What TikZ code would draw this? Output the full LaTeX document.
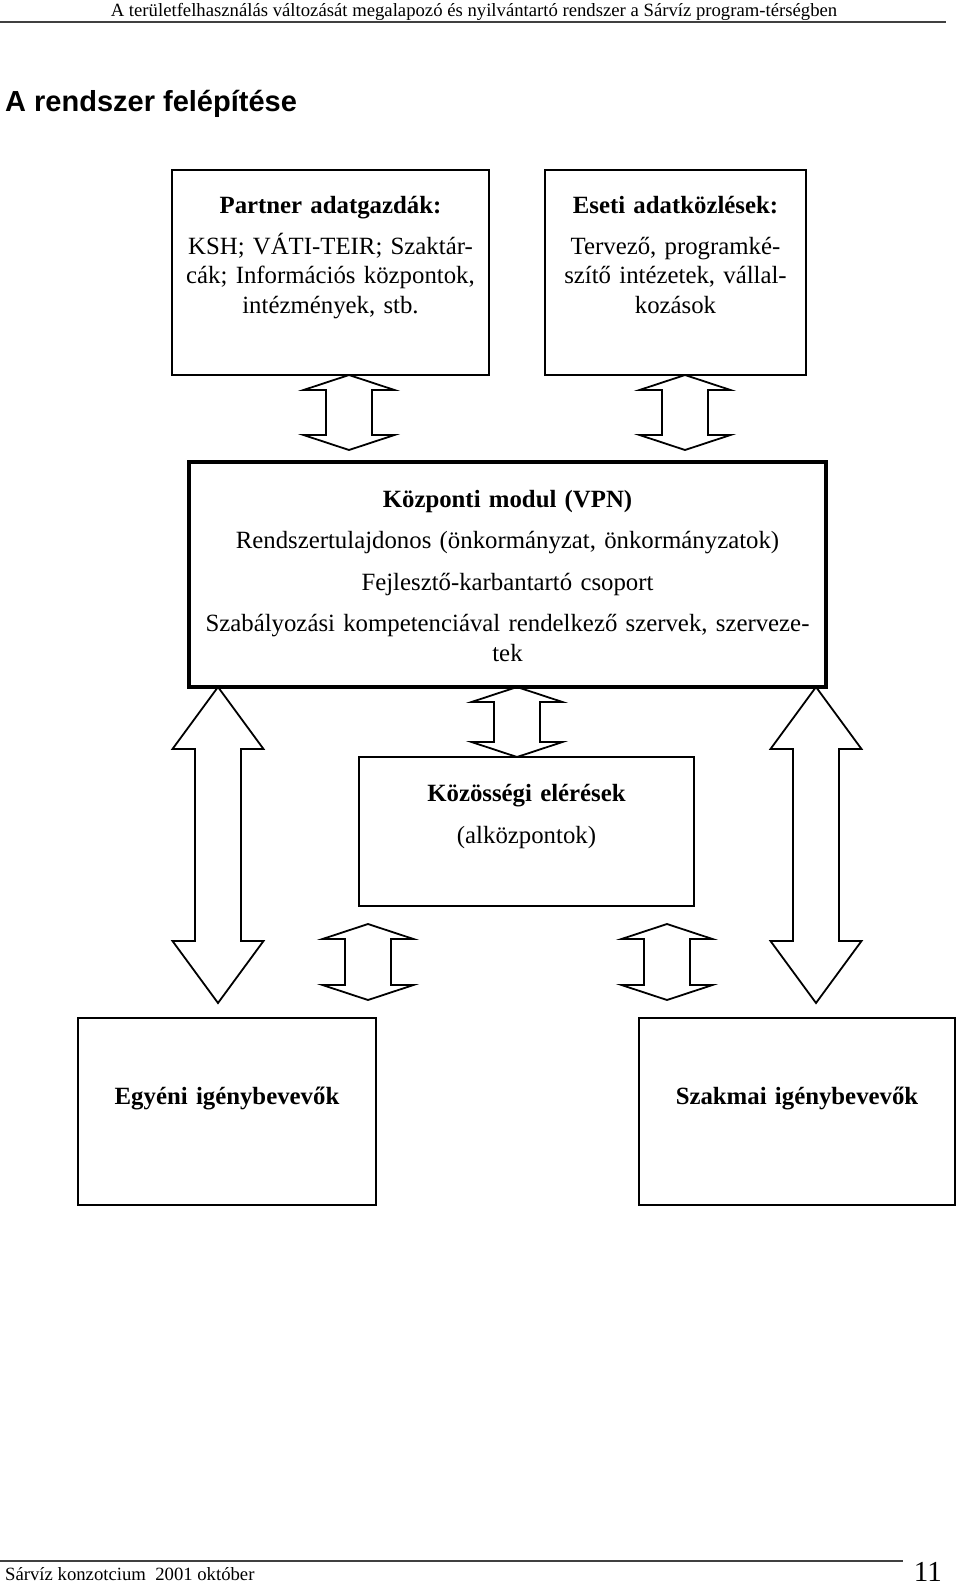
\documentclass[tikz,border=0pt]{standalone}
\usepackage{fontspec}
\setmainfont{Liberation Serif}
\setsansfont{Liberation Sans}
\usetikzlibrary{calc}

% double block arrow between two boxes: x, upper box, lower box, top gap, bottom gap, head length
\newcommand{\twoway}[6]{%
  \draw[blockarrow] let \p3=(#1,0), \p1=(#2.south), \p2=(#3.north) in
    (\x3,{\y1-#4pt}) -- ++(45.5pt,-#6pt) -- ++(-22.5pt,0pt)
    -- ({\x3+23pt},{\y2+#5pt+#6pt}) -- ++(22.5pt,0pt)
    -- (\x3,{\y2+#5pt}) -- ++(-45.5pt,#6pt) -- ++(22.5pt,0pt)
    -- ({\x3-23pt},{\y1-#4pt-#6pt}) -- ++(-22.5pt,0pt) -- cycle;}

\begin{document}
\begin{tikzpicture}[x=1pt,y=-1pt,
    box/.style={draw,line width=1.8pt,outer sep=0pt,inner sep=0pt},
    mainbox/.style={box,line width=4pt},
    txt/.style={anchor=base,align=center,inner sep=0pt,font=\fontsize{24.8}{29.5}\selectfont},
    blockarrow/.style={draw,line width=1.8pt,line join=miter}]

		\useasboundingbox (0,0) rectangle (960,1585);

		% page header and footer
		\node[anchor=base,inner sep=0pt,font=\fontsize{18.7}{22}\selectfont] (header) at (474,16)
			{A területfelhasználás változását megalapozó és nyilvántartó rendszer a Sárvíz program-térségben};
		\draw[line width=1.5pt,black!75] (0,22) -- (946,22);
		\node[anchor=base west,inner sep=0pt,font=\sffamily\bfseries\fontsize{29}{34}\selectfont] (title) at (5,111)
			{A rendszer felépítése};
		\draw[line width=1.5pt,black!75] (0,1561) -- (903,1561);
		\node[anchor=base west,inner sep=0pt,font=\fontsize{18.7}{22}\selectfont] (footer) at (5,1580)
			{Sárvíz konzotcium\ \ 2001 október};
		\node[anchor=base east,inner sep=0pt,font=\fontsize{29}{34}\selectfont] (pageno) at (942,1581) {11};

		% boxes
		\node[box,minimum width=317pt,minimum height=205pt] (partner) at (330.5,272.5) {};
		\node[box,minimum width=261pt,minimum height=205pt] (eseti) at (675.5,272.5) {};
		\node[mainbox,minimum width=637pt,minimum height=225pt] (kozpont) at (507.5,574.5) {};
		\node[box,minimum width=335pt,minimum height=149pt] (kozossegi) at (526.5,831.5) {};
		\node[box,minimum width=298pt,minimum height=187pt] (egyeni) at (227,1111.5) {};
		\node[box,minimum width=316pt,minimum height=187pt] (szakmai) at (797,1111.5) {};

		% box texts
		\node[txt,text width=315pt] (partner_t) at (330.5,213)
			{\textbf{Partner adatgazdák:}\\[11.5pt]KSH; VÁTI-TEIR; Szaktár-\\cák; Információs központok,\\intézmények, stb.};
		\node[txt,text width=255pt] (eseti_t) at (675.5,213)
			{\textbf{Eseti adatközlések:}\\[11.5pt]Tervező, programké-\\szítő intézetek, vállal-\\kozások};
		\node[txt,text width=630pt] (kozpont_t) at (507.5,507)
			{\textbf{Központi modul (VPN)}\\[12pt]Rendszertulajdonos (önkormányzat, önkormányzatok)\\[12pt]Fejlesztő-karbantartó csoport\\[12pt]Szabályozási kompetenciával rendelkező szervek, szerveze-\\tek};
		\node[txt,text width=330pt] (kozossegi_t) at (526.5,801)
			{\textbf{Közösségi elérések}\\[12.5pt](alközpontok)};
		\node[txt,text width=295pt] (egyeni_t) at (227,1104) {\textbf{Egyéni igénybevevők}};
		\node[txt,text width=312pt] (szakmai_t) at (797,1104) {\textbf{Szakmai igénybevevők}};

		% block arrows
		\twoway{349}{partner}{kozpont}{0}{12}{15}
		\twoway{685}{eseti}{kozpont}{0}{12}{15}
		\twoway{517}{kozpont}{kozossegi}{0}{0}{15}
		\twoway{218}{kozpont}{egyeni}{0}{15}{62}
		\twoway{816}{kozpont}{szakmai}{0}{15}{62}
		\twoway{368}{kozossegi}{egyeni}{18}{18}{15}
		\twoway{667}{kozossegi}{szakmai}{18}{18}{15}

\end{tikzpicture}
\end{document}
